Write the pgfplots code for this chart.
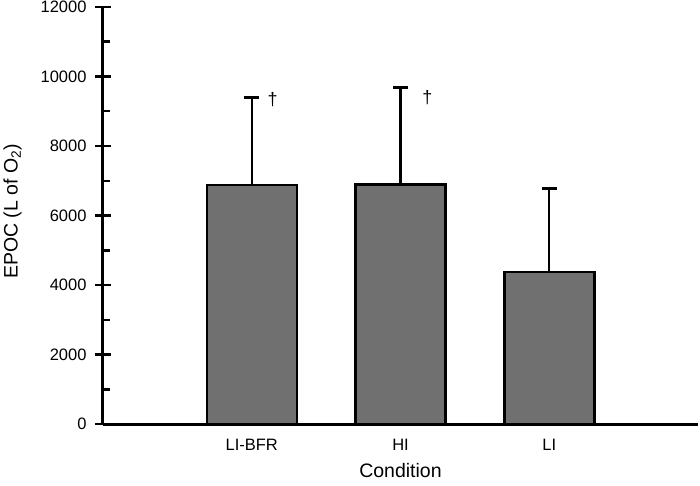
\documentclass[border=0pt]{standalone}
\usepackage{fontspec}
\setmainfont{Liberation Sans}
\usepackage{pgfplots}
\pgfplotsset{compat=1.18}
\usetikzlibrary{calc}
\definecolor{barfill}{RGB}{112,112,112}
\begin{document}
\begin{tikzpicture}
\begin{axis}[
  scale only axis,
  width=595pt, height=417pt,
  xmin=0, xmax=4,
  ymin=0, ymax=12000,
  axis x line=bottom, axis y line=left,
  axis line style={-, line width=3pt},
  xtick={1,2,3},
  xticklabels={LI-BFR,HI,LI},
  x tick style={draw=none},
  ytick={0,2000,...,12000},
  minor y tick num=1,
  tick align=inside,
  major tick length=16pt,
  minor tick length=7pt,
  y tick style={line width=2.5pt, black},
  major y tick style={xshift=-8pt},
  scaled y ticks=false,
  /pgf/number format/assume math mode=true,
  /pgf/number format/set thousands separator={},
  tick label style={font=\fontsize{16.5}{19}\selectfont},
  yticklabel style={xshift=-13pt},
  xticklabel style={yshift=-12pt},
  label style={font=\fontsize{19.5}{23}\selectfont},
  xlabel={Condition},
  ylabel={EPOC (L of O\textsubscript{2})},
  xlabel style={yshift=-6pt},
  ylabel style={yshift=12pt, xshift=4pt},
  clip=false,
]
\addplot[ybar, bar width=90pt, fill=barfill, draw=black, line width=2.5pt,
  error bars/.cd, y dir=plus, y explicit,
  error bar style={line width=2.2pt, black},
  error mark options={rotate=90, mark size=7.5pt, line width=2.5pt, black}]
  coordinates {
  (1,6880) +- (0,2510)
  (2,6890) +- (0,2790)
  (3,4380) +- (0,2400)
};
\node[font=\fontsize{18}{20}\selectfont] at (axis cs:1.14,9350) {†};
\node[font=\fontsize{18}{20}\selectfont] at (axis cs:2.18,9380) {†};
\end{axis}
\pgfresetboundingbox
\path ($(current axis.south west)+(-103pt,-61pt)$) rectangle ($(current axis.north east)+(2pt,7pt)$);
\end{tikzpicture}
\end{document}
